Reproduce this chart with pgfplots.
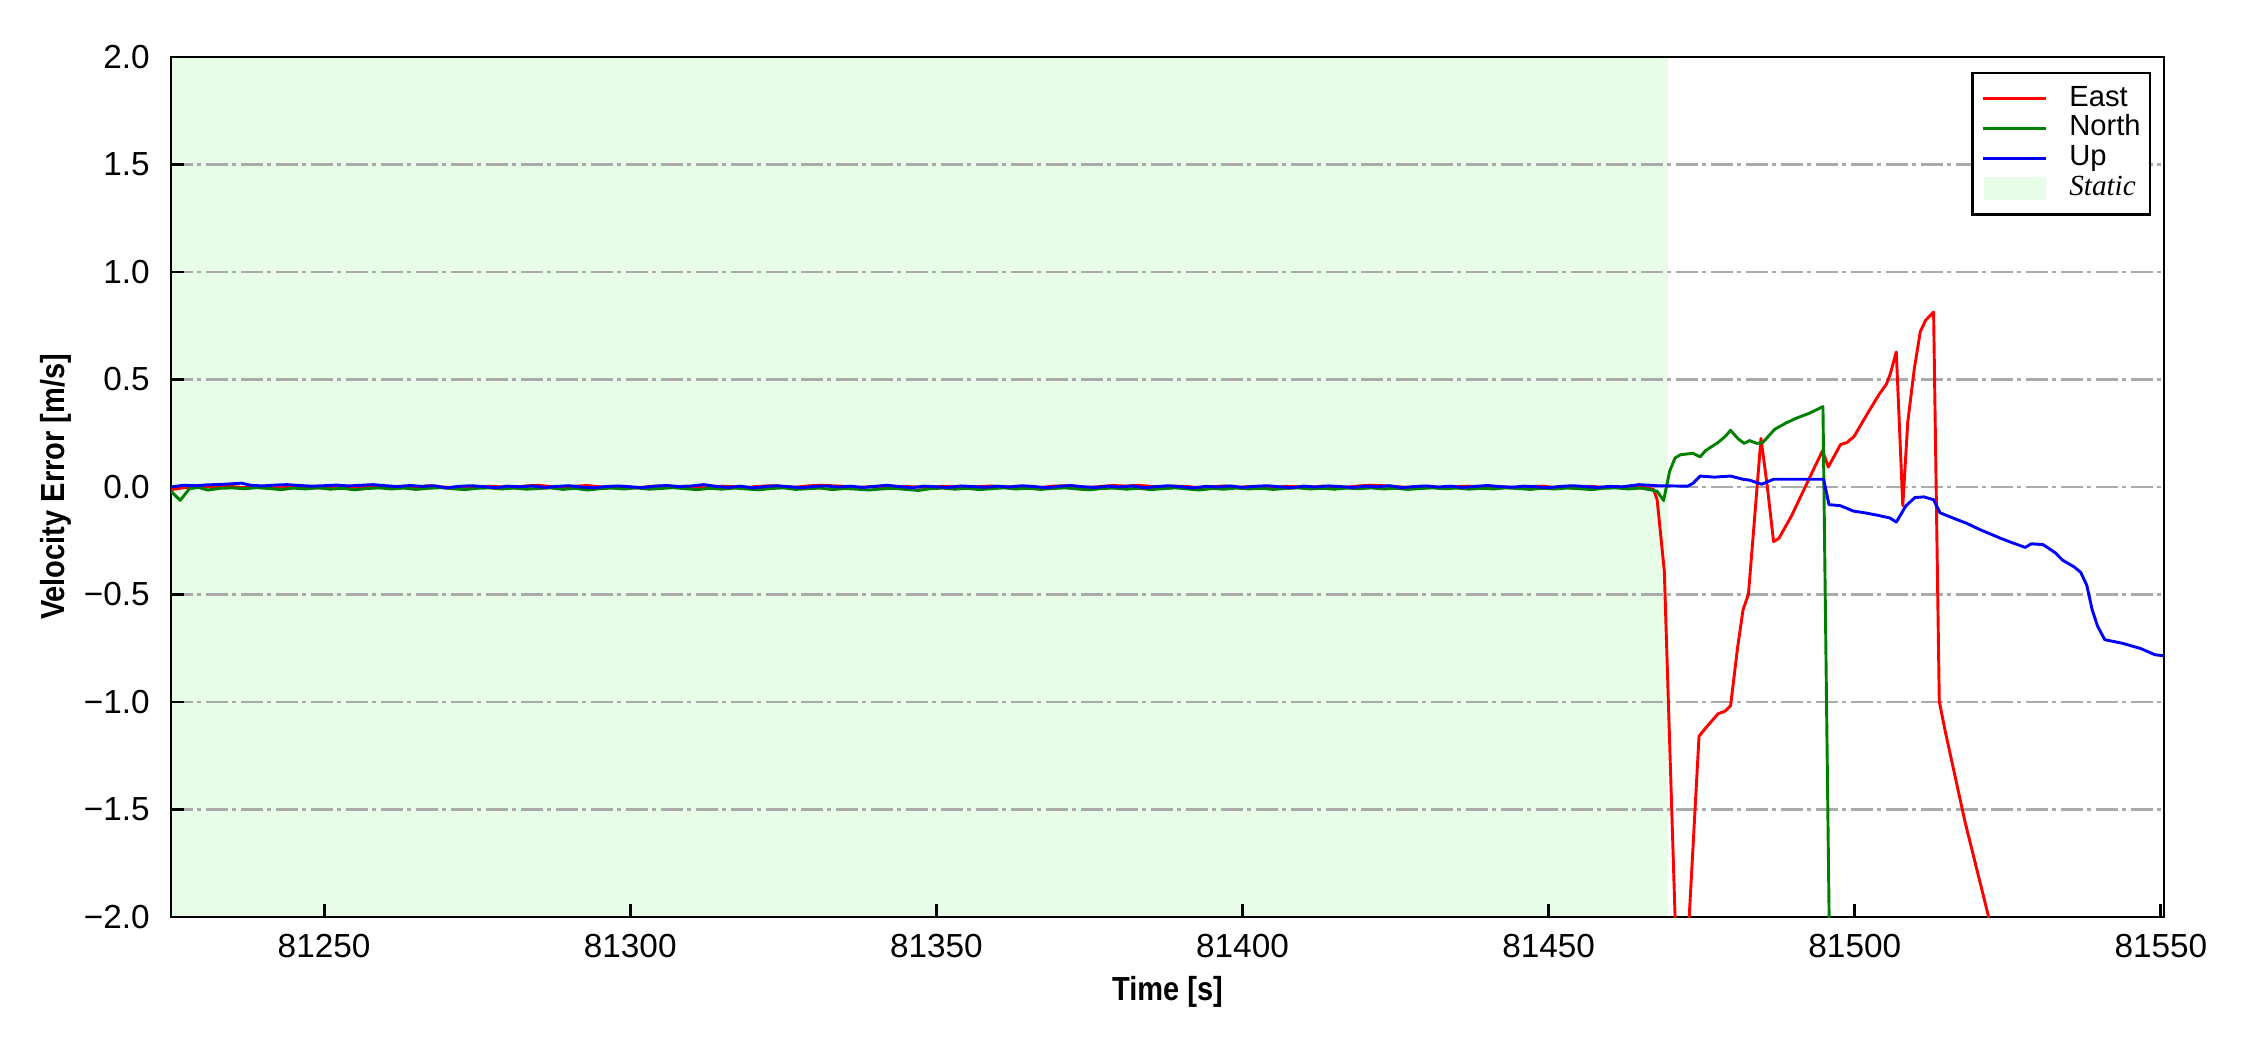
\documentclass[border=0pt]{standalone}
\usepackage{fontspec}
\setmainfont{Liberation Sans}
\newfontfamily\timesfont{Liberation Serif}
\usepackage{graphicx}
\usepackage{pgfplots}
\pgfplotsset{compat=1.18}
\definecolor{staticgreen}{RGB}{232,253,232}
\definecolor{gridgray}{RGB}{170,170,170}
\definecolor{mygreen}{RGB}{0,128,0}
\definecolor{myred}{RGB}{255,0,0}
\definecolor{myblue}{RGB}{0,0,255}

\begin{document}
\begin{tikzpicture}
\begin{axis}[
  set layers,
  scale only axis, width=478.3pt, height=206.4pt,
  xmin=81225, xmax=81550.5, ymin=-2, ymax=2,
  scaled x ticks=false, scaled y ticks=false,
  xtick={81250,81300,81350,81400,81450,81500,81550},
  xticklabels={81250,81300,81350,81400,81450,81500,81550},
  ytick={-2,-1.5,-1,-0.5,0,0.5,1,1.5,2},
  yticklabels={−2.0,−1.5,−1.0,−0.5,0.0,0.5,1.0,1.5,2.0},
  tick align=inside, xtick pos=bottom, ytick pos=left,
  major tick length=3.2pt,
  every tick/.style={black, line width=0.7pt},
  axis line style={line width=0.7pt},
  ymajorgrids,
  major grid style={gridgray, line width=0.65pt, dash pattern=on 5.2pt off 1pt on 1pt off 1.2pt},
  ticklabel style={font=\fontsize{8}{9.6}\selectfont},
  xticklabel style={yshift=-0.6pt},
  yticklabel style={xshift=-1.6pt},
  xlabel={\scalebox{0.87}[1]{\bfseries Time [s]}},
  ylabel={\scalebox{0.87}[1]{\bfseries Velocity Error [m/s]}},
  label style={font=\fontsize{8}{9.6}\selectfont},
  xlabel style={at={(axis description cs:0.5,-0.0867)}, anchor=center},
  ylabel style={at={(axis description cs:-0.058,0.5)}, anchor=center},
  legend style={at={(rel axis cs:1,1)}, anchor=north east, xshift=-3.1pt, yshift=-3.5pt,
    draw=black, line width=0.6pt, fill=white, font=\fontsize{7}{8}\selectfont,
    inner xsep=2.2pt, inner ysep=3pt, row sep=0.65pt, column sep=5.2pt,
    nodes={inner sep=0pt, text height=5pt, text depth=1.5pt}},
  legend cell align=left,
  legend image code/.code={\draw[#1] (0pt,0pt) -- (15.2pt,0pt);},
  every axis plot/.append style={line width=0.7pt, line join=round},
]
\addplot[draw=none, fill=staticgreen, forget plot, on layer=axis background]
  coordinates {(81225,-2) (81469.5,-2) (81469.5,2) (81225,2)} -- cycle;

\addplot[myred] coordinates {
(81225,-0.012) (81227,-0.004) (81229,0.003) (81231,0.001) (81233,0.005) (81235,0.002) (81237,-0.003) (81239,0.001) (81241,0.004) (81243,-0.002)
(81245,0.003) (81247,0.000) (81249,-0.004) (81251,0.002) (81253,0.005) (81255,-0.001) (81257,0.003) (81259,-0.003) (81261,0.001) (81263,0.004)
(81265,-0.002) (81267,0.006) (81269,0.001) (81271,-0.003) (81273,0.002) (81275,-0.001) (81277,0.004) (81279,0.000) (81281,-0.002) (81283,0.005)
(81285,0.008) (81287,0.002) (81289,-0.003) (81291,0.004) (81293,0.007) (81295,0.001) (81297,-0.002) (81299,0.003) (81301,-0.004) (81303,0.002)
(81305,0.005) (81307,-0.001) (81309,0.003) (81311,0.000) (81313,-0.003) (81315,0.004) (81317,0.001) (81319,-0.002) (81321,0.003) (81323,0.006)
(81325,0.002) (81327,-0.001) (81329,0.005) (81331,0.008) (81333,0.006) (81335,0.003) (81337,-0.002) (81339,0.001) (81341,0.004) (81343,-0.003)
(81345,0.002) (81347,0.000) (81349,-0.002) (81351,0.003) (81353,0.001) (81355,-0.004) (81357,0.002) (81359,0.005) (81361,-0.001) (81363,0.003)
(81365,0.000) (81367,-0.003) (81369,0.004) (81371,0.006) (81373,0.001) (81375,-0.002) (81377,0.003) (81379,0.007) (81381,0.004) (81383,0.008)
(81385,0.003) (81387,-0.001) (81389,0.004) (81391,0.002) (81393,-0.003) (81395,0.001) (81397,0.005) (81399,-0.002) (81401,0.002) (81403,0.000)
(81405,-0.004) (81407,0.003) (81409,0.001) (81411,-0.002) (81413,0.004) (81415,0.002) (81417,-0.001) (81419,0.005) (81421,0.008) (81423,0.006)
(81425,0.002) (81427,-0.002) (81429,0.003) (81431,0.000) (81433,-0.003) (81435,0.002) (81437,0.004) (81439,-0.001) (81441,0.003) (81443,0.000)
(81445,-0.003) (81447,0.002) (81449,0.004) (81451,-0.002) (81453,0.001) (81455,-0.001) (81457,0.003) (81459,-0.002) (81461,0.000) (81463,-0.001)
(81465,0.003) (81466,-0.005) (81467.13,-0.011) (81467.72,-0.059) (81468.89,-0.391) (81471.49,-2.77) (81474.56,-1.159) (81475.91,-1.112)
(81477.66,-1.055) (81478.83,-1.042) (81479.71,-1.017) (81480.88,-0.742) (81481.75,-0.571) (81482.63,-0.499) (81484.68,0.226) (81485.73,-0.002)
(81486.73,-0.254) (81487.60,-0.239) (81489.65,-0.135) (81493.45,0.093) (81494.74,0.169) (81495.67,0.093) (81497.66,0.197) (81498.71,0.207)
(81499.88,0.235) (81502.22,0.349) (81503.98,0.431) (81505.15,0.478) (81505.73,0.520) (81506.78,0.628) (81507.84,-0.087) (81508.65,0.302)
(81509.71,0.548) (81510.70,0.723) (81511.58,0.776) (81512.87,0.814) (81513.80,-0.998) (81514.80,-1.140) (81518.01,-1.558) (81521.81,-1.994)
(81525,-2.6) (81530,-3.2)
};
\addlegendentry{East}

\addplot[mygreen] coordinates {
(81225,-0.020) (81226.5,-0.062) (81228,-0.008) (81229.5,-0.002) (81231,-0.014) (81233,-0.006) (81235,-0.004) (81237,-0.008) (81239,-0.003) (81241,-0.007)
(81243,-0.012) (81245,-0.005) (81247,-0.009) (81249,-0.004) (81251,-0.010) (81253,-0.006) (81255,-0.013) (81257,-0.007) (81259,-0.004) (81261,-0.009)
(81263,-0.005) (81265,-0.011) (81267,-0.006) (81269,-0.003) (81271,-0.008) (81273,-0.012) (81275,-0.006) (81277,-0.004) (81279,-0.009) (81281,-0.005)
(81283,-0.010) (81285,-0.007) (81287,-0.004) (81289,-0.011) (81291,-0.006) (81293,-0.014) (81295,-0.008) (81297,-0.005) (81299,-0.009) (81301,-0.004)
(81303,-0.010) (81305,-0.007) (81307,-0.003) (81309,-0.008) (81311,-0.012) (81313,-0.006) (81315,-0.010) (81317,-0.005) (81319,-0.009) (81321,-0.013)
(81323,-0.007) (81325,-0.004) (81327,-0.011) (81329,-0.008) (81331,-0.005) (81333,-0.012) (81335,-0.007) (81337,-0.010) (81339,-0.014) (81341,-0.009)
(81343,-0.006) (81345,-0.011) (81347,-0.016) (81349,-0.008) (81351,-0.005) (81353,-0.010) (81355,-0.006) (81357,-0.012) (81359,-0.008) (81361,-0.004)
(81363,-0.009) (81365,-0.006) (81367,-0.011) (81369,-0.007) (81371,-0.004) (81373,-0.009) (81375,-0.013) (81377,-0.007) (81379,-0.005) (81381,-0.010)
(81383,-0.006) (81385,-0.012) (81387,-0.008) (81389,-0.004) (81391,-0.009) (81393,-0.014) (81395,-0.007) (81397,-0.010) (81399,-0.005) (81401,-0.009)
(81403,-0.006) (81405,-0.011) (81407,-0.007) (81409,-0.004) (81411,-0.009) (81413,-0.006) (81415,-0.010) (81417,-0.005) (81419,-0.008) (81421,-0.004)
(81423,-0.009) (81425,-0.006) (81427,-0.011) (81429,-0.007) (81431,-0.004) (81433,-0.008) (81435,-0.005) (81437,-0.010) (81439,-0.006) (81441,-0.009)
(81443,-0.004) (81445,-0.007) (81447,-0.011) (81449,-0.006) (81451,-0.009) (81453,-0.005) (81455,-0.008) (81457,-0.012) (81459,-0.006) (81461,-0.004)
(81463,-0.009) (81465,-0.005) (81466.5,-0.012) (81467.72,-0.020) (81468.77,-0.063) (81469.77,0.074) (81470.64,0.135) (81471.52,0.150) (81473.57,0.157)
(81474.74,0.140) (81475.61,0.169) (81477.66,0.207) (81478.83,0.235) (81479.71,0.264) (81480.88,0.226) (81481.93,0.203) (81482.81,0.216)
(81483.98,0.203) (81484.97,0.207) (81486.90,0.268) (81488.77,0.298) (81490.53,0.321) (81492.57,0.343) (81494.80,0.374) (81495.85,-2.1)
(81497,-2.6) (81551,-2.6)
};
\addlegendentry{North}

\addplot[myblue] coordinates {
(81225,0.000) (81227,0.008) (81229,0.006) (81231,0.010) (81233,0.012) (81235,0.015) (81236.5,0.018) (81238,0.008) (81240,0.005) (81242,0.009)
(81244,0.011) (81246,0.007) (81248,0.004) (81250,0.006) (81252,0.009) (81254,0.005) (81256,0.008) (81258,0.011) (81260,0.006) (81262,0.002)
(81264,0.007) (81266,0.003) (81268,0.006) (81270,-0.004) (81272,0.003) (81274,0.006) (81276,0.002) (81278,-0.003) (81280,0.004) (81282,0.001)
(81284,0.005) (81286,-0.002) (81288,0.003) (81290,0.006) (81292,0.000) (81294,-0.004) (81296,0.002) (81298,0.005) (81300,0.001) (81302,-0.003)
(81304,0.004) (81306,0.007) (81308,0.002) (81310,0.005) (81312,0.011) (81314,0.003) (81316,-0.002) (81318,0.004) (81320,-0.004) (81322,0.002)
(81324,0.006) (81326,0.001) (81328,-0.003) (81330,0.003) (81332,0.005) (81334,0.000) (81336,0.004) (81338,-0.002) (81340,0.003) (81342,0.008)
(81344,0.002) (81346,-0.003) (81348,0.004) (81350,0.001) (81352,-0.002) (81354,0.005) (81356,0.002) (81358,-0.001) (81360,0.004) (81362,0.000)
(81364,0.006) (81366,0.002) (81368,-0.003) (81370,0.003) (81372,0.007) (81374,0.001) (81376,-0.002) (81378,0.004) (81380,0.000) (81382,0.005)
(81384,-0.003) (81386,0.002) (81388,0.006) (81390,0.001) (81392,-0.004) (81394,0.003) (81396,0.000) (81398,0.005) (81400,-0.002) (81402,0.003)
(81404,0.006) (81406,0.001) (81408,-0.003) (81410,0.004) (81412,0.000) (81414,0.005) (81416,0.002) (81418,-0.002) (81420,0.004) (81422,0.001)
(81424,0.006) (81426,-0.003) (81428,0.002) (81430,0.005) (81432,0.000) (81434,0.004) (81436,-0.002) (81438,0.003) (81440,0.007) (81442,0.002)
(81444,-0.001) (81446,0.004) (81448,0.001) (81450,-0.003) (81452,0.003) (81454,0.006) (81456,0.002) (81458,-0.002) (81460,0.003) (81462,0.001)
(81464.8,0.011) (81467.72,0.006) (81472.69,0.004) (81473.57,0.017) (81474.74,0.051) (81477.08,0.046) (81479.71,0.051) (81481.75,0.036)
(81482.81,0.032) (81484.80,0.013) (81486.73,0.036) (81489.36,0.036) (81494.91,0.036) (81495.79,-0.082) (81497.66,-0.087) (81499.77,-0.112)
(81501.64,-0.120) (81503.68,-0.131) (81505.73,-0.144) (81506.78,-0.163) (81508.36,-0.087) (81509.82,-0.049) (81511.29,-0.046) (81512.87,-0.059)
(81513.92,-0.120) (81516.55,-0.150) (81518.30,-0.169) (81520.35,-0.197) (81523.86,-0.239) (81525.61,-0.258) (81527.84,-0.281) (81528.83,-0.264)
(81530.76,-0.268) (81532.75,-0.306) (81533.92,-0.340) (81535.85,-0.372) (81536.90,-0.397) (81537.89,-0.457) (81538.77,-0.571) (81539.65,-0.647)
(81540.82,-0.710) (81543.74,-0.727) (81546.67,-0.751) (81549.01,-0.780) (81550.76,-0.786)
};
\addlegendentry{Up}

\addlegendimage{legend image code/.code={\fill[staticgreen] (0.5pt,-2.4pt) rectangle (14.9pt,2.4pt);}}
\addlegendentry{{\timesfont\itshape Static}}
\end{axis}
\path (current axis.south west) ++(-41.04pt,-31.92pt);
\path (current axis.north east) ++(20.64pt,13.68pt);
\end{tikzpicture}
\end{document}
